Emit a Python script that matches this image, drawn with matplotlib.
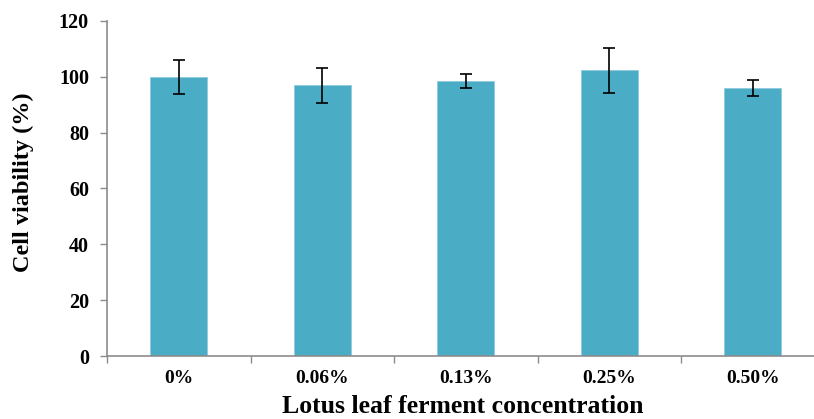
import matplotlib
matplotlib.use("Agg")
import matplotlib.pyplot as plt
import numpy as np

categories = ["0%", "0.06%", "0.13%", "0.25%", "0.50%"]
viability = [100.0, 96.9, 98.4, 102.4, 96.0]
errors = [6.0, 6.2, 2.5, 8.1, 2.9]
y_ticks = [0, 20, 40, 60, 80, 100, 120]

bar_color = "#4BACC6"
spine_color = "#8C8C8C"
serif = ["Liberation Serif", "DejaVu Serif"]

W, H = 814, 419
fig = plt.figure(figsize=(W / 100, H / 100), dpi=100)
ax = fig.add_axes([107 / W, 63 / H, 717.5 / W, 335 / H])

x = np.arange(len(categories))
ax.bar(x, viability, width=0.40, color=bar_color, edgecolor="#8FCBDB",
       linewidth=0.6, zorder=2)
ax.errorbar(x, viability, yerr=errors, fmt="none", ecolor="black",
            elinewidth=1.2, capsize=4, capthick=1.2, zorder=3)

ax.set_xlim(-0.5, len(categories) - 0.5)
ax.set_ylim(0, 120)
ax.set_yticks(y_ticks)
ax.set_yticklabels([str(v) for v in y_ticks], fontfamily=serif,
                   fontweight="bold", fontsize=14.5)

# category labels centered under bars, tick marks on boundaries
ax.set_xticks(x)
ax.set_xticklabels(categories, fontfamily=serif, fontweight="bold",
                   fontsize=14)
ax.tick_params(axis="x", length=0, pad=10)
ax.set_xticks(np.arange(-0.5, len(categories), 1.0), minor=True)
ax.tick_params(axis="x", which="minor", length=5, color=spine_color, width=1)
ax.tick_params(axis="y", length=5, width=1, color=spine_color, pad=8)

for side in ("top", "right"):
    ax.spines[side].set_visible(False)
for side in ("left", "bottom"):
    ax.spines[side].set_color(spine_color)
    ax.spines[side].set_linewidth(1.2)

fig.text(23 / W, 1 - 182 / H, "Cell viability (%)", rotation=90,
         ha="center", va="center", fontfamily=serif, fontweight="bold",
         fontsize=17.5)
fig.text(463 / W, 1 / H, "Lotus leaf ferment concentration", ha="center",
         va="bottom", fontfamily=serif, fontweight="bold", fontsize=18.5)

fig.savefig("out.png", dpi=100)
